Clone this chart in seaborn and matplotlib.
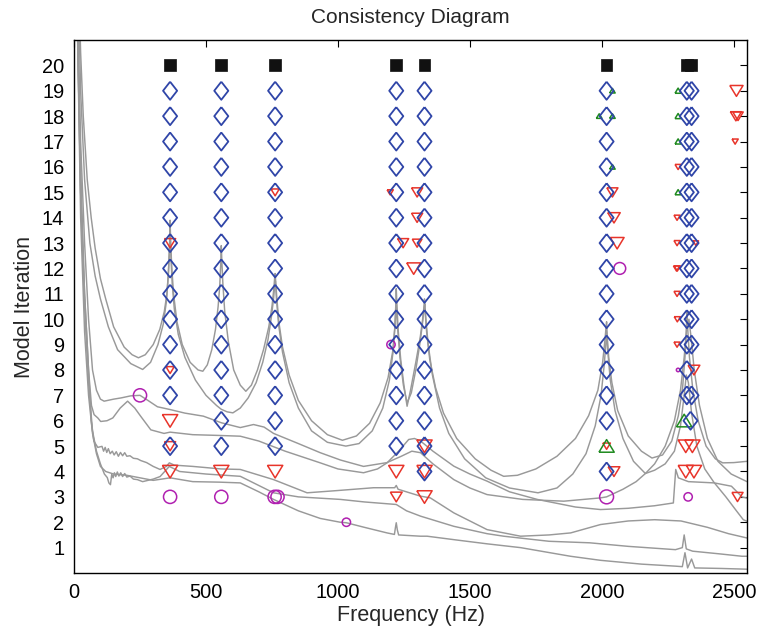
import numpy as np
import pandas as pd
import matplotlib
matplotlib.use("Agg")
import matplotlib.pyplot as plt
import seaborn as sns

# ---------------- background response curves: (frequency Hz, level in iteration units)
curve_1 = [(16, 24), (25, 20.5), (35, 18), (50, 15.5), (65, 14), (80, 12.8), (100, 11.6), (120, 10.8), (150, 9.7), (190, 8.9), (220, 8.6), (244, 8.48), (270, 8.6), (300, 9.0), (325, 9.6), (342, 10.3), (352, 11.0), (358, 11.9), (362, 12.9), (364, 13.9), (366, 13.1), (370, 12.1), (377, 11.0), (390, 9.9), (410, 9.0), (440, 8.3), (470, 8.0), (488, 7.95), (505, 8.2), (522, 8.8), (536, 9.6), (546, 10.5), (552, 11.3), (556, 12.2), (558, 12.9), (560, 12.3), (564, 11.4), (571, 10.3), (585, 9.1), (605, 8.0), (630, 7.4), (651, 7.16), (672, 7.4), (695, 8.0), (718, 8.8), (738, 9.7), (750, 10.5), (757, 11.2), (760, 11.6), (762, 11.8), (764, 11.5), (768, 10.9), (776, 9.9), (790, 8.9), (815, 7.8), (850, 6.8), (900, 6.0), (960, 5.45), (1017, 5.23), (1070, 5.4), (1120, 5.9), (1160, 6.7), (1190, 7.7), (1207, 8.7), (1215, 9.6), (1219, 10.5), (1221, 11.2), (1223, 10.7), (1228, 9.6), (1238, 8.4), (1250, 7.4), (1262, 6.57), (1275, 7.2), (1295, 8.3), (1312, 9.3), (1321, 10.0), (1326, 10.5), (1328, 10.8), (1330, 10.4), (1336, 9.5), (1348, 8.4), (1370, 7.3), (1400, 6.3), (1450, 5.3), (1520, 4.5), (1580, 4.05), (1628, 3.81), (1680, 3.85), (1750, 4.1), (1830, 4.6), (1900, 5.3), (1950, 6.2), (1985, 7.2), (2003, 8.3), (2012, 9.2), (2016, 9.7), (2018, 9.9), (2020, 9.4), (2026, 8.5), (2038, 7.5), (2060, 6.4), (2100, 5.4), (2150, 4.8), (2190, 4.53), (2230, 4.65), (2265, 5.2), (2290, 6.2), (2306, 7.3), (2315, 8.5), (2320, 9.5), (2322, 10.3), (2325, 9.7), (2332, 8.5), (2345, 7.2), (2365, 6.0), (2395, 5.0), (2430, 4.5), (2458, 4.34), (2500, 4.35), (2550, 4.4)]

curve_2 = [(14, 24), (25, 19), (40, 15.5), (60, 13), (80, 11.7), (100, 10.8), (130, 9.7), (165, 8.8), (215, 8.25), (260, 8.02), (290, 8.3), (318, 9.0), (338, 9.8), (350, 10.7), (357, 11.7), (361, 12.6), (364, 13.4), (367, 12.5), (372, 11.4), (380, 10.4), (395, 9.4), (420, 8.5), (460, 7.6), (500, 7.0), (540, 6.6), (558, 6.45), (580, 6.35), (602, 6.31), (630, 6.5), (660, 6.9), (690, 7.5), (715, 8.3), (735, 9.2), (748, 10.1), (756, 10.8), (760, 11.3), (763, 11.5), (767, 10.8), (775, 9.8), (790, 8.7), (815, 7.5), (850, 6.5), (900, 5.6), (960, 5.15), (1030, 5.0), (1080, 5.1), (1130, 5.6), (1170, 6.5), (1195, 7.6), (1210, 8.8), (1217, 9.9), (1221, 10.6), (1225, 9.8), (1235, 8.5), (1248, 7.4), (1262, 6.7), (1278, 7.1), (1295, 8.0), (1310, 9.0), (1320, 9.8), (1326, 10.4), (1329, 10.6), (1333, 10.0), (1342, 9.0), (1358, 7.8), (1385, 6.5), (1420, 5.5), (1480, 4.5), (1560, 3.75), (1650, 3.35), (1758, 3.16), (1830, 3.35), (1890, 3.9), (1940, 4.7), (1975, 5.8), (1997, 7.0), (2009, 8.2), (2015, 9.0), (2018, 9.5), (2022, 8.8), (2032, 7.6), (2050, 6.4), (2080, 5.3), (2120, 4.4), (2165, 3.92), (2200, 4.3), (2240, 5.0), (2275, 6.0), (2298, 7.2), (2312, 8.5), (2322, 9.7), (2330, 10.0), (2338, 9.3), (2350, 8.0), (2370, 6.6), (2400, 5.3), (2440, 4.4), (2490, 3.9), (2550, 3.6)]

curve_3 = [(14, 22), (25, 17), (40, 13), (55, 10), (70, 8), (85, 7.2), (100, 6.85), (114, 6.77), (150, 6.85), (179, 6.9), (215, 6.98), (250, 7.0), (280, 6.8), (316, 6.55), (364, 6.44), (420, 6.3), (490, 6.18), (558, 5.92), (630, 5.73), (680, 5.85), (720, 5.75), (756, 5.5), (850, 5.1), (933, 4.74), (1010, 4.45), (1097, 4.2), (1186, 4.35), (1240, 4.6), (1280, 4.8), (1313, 4.74), (1360, 4.3), (1439, 3.68), (1500, 3.35), (1565, 3.09), (1700, 2.9), (1856, 2.83), (1995, 2.96), (2018, 3.0), (2080, 3.3), (2130, 3.6), (2165, 3.92), (2200, 4.05), (2240, 4.3), (2275, 4.8), (2298, 5.8), (2312, 7.0), (2320, 7.8), (2328, 7.5), (2340, 6.3), (2360, 5.0), (2390, 4.1), (2425, 3.57), (2470, 3.0), (2510, 2.45), (2536, 2.1), (2550, 2.04)]

curve_4 = [(12, 22), (25, 16), (40, 11), (55, 8), (66, 6.6), (76, 6.24), (90, 6.11), (101, 5.97), (125, 6.0), (147, 6.11), (175, 6.5), (203, 6.77), (230, 6.5), (253, 6.17), (291, 5.64), (341, 5.5), (364, 5.55), (450, 5.45), (550, 5.42), (630, 5.39), (700, 5.2), (800, 4.8), (933, 4.34), (1000, 4.1), (1097, 3.95), (1150, 4.1), (1186, 4.34), (1230, 4.8), (1268, 5.26), (1290, 5.3), (1313, 5.2), (1360, 4.8), (1439, 4.21), (1500, 3.9), (1565, 3.62), (1650, 3.2), (1755, 2.9), (1900, 2.6), (1995, 2.5), (2100, 2.55), (2200, 2.65), (2271, 2.76), (2276, 3.5), (2280, 4.08), (2290, 3.75), (2328, 3.6), (2426, 3.55), (2491, 3.42), (2531, 3.0), (2550, 2.95)]

curve_5 = [(12, 22), (25, 15), (40, 11), (55, 8), (65, 6), (75, 5.2), (90, 4.95), (106, 4.99), (112, 4.8), (118, 4.95), (124, 4.75), (130, 4.9), (137, 4.7), (145, 4.8), (152, 4.65), (160, 4.78), (168, 4.6), (176, 4.75), (184, 4.62), (192, 4.74), (200, 4.6), (212, 4.62), (225, 4.52), (240, 4.5), (253, 4.43), (275, 4.35), (300, 4.2), (326, 4.08), (350, 4.2), (361, 4.34), (380, 4.25), (450, 4.2), (557, 4.1), (630, 4.08), (756, 3.68), (883, 3.16), (1000, 3.25), (1135, 3.36), (1215, 3.36), (1221, 3.45), (1228, 3.3), (1312, 3.03), (1350, 2.96), (1439, 2.37), (1565, 1.71), (1692, 1.45), (1800, 1.5), (1882, 1.58), (1995, 1.91), (2100, 2.05), (2200, 2.1), (2300, 2.05), (2400, 1.8), (2480, 1.55), (2550, 1.38)]

curve_6 = [(12, 22), (25, 15), (40, 10.5), (55, 7.5), (70, 5.6), (85, 4.8), (100, 4.3), (115, 3.9), (126, 3.76), (132, 3.55), (138, 3.48), (143, 3.9), (148, 3.75), (153, 3.95), (158, 3.8), (164, 3.98), (170, 3.82), (177, 3.95), (184, 3.8), (192, 3.92), (200, 3.78), (212, 3.82), (225, 3.7), (240, 3.68), (260, 3.6), (300, 3.7), (326, 3.8), (361, 4.2), (400, 4.0), (500, 3.9), (630, 3.81), (756, 3.16), (850, 3.0), (1009, 2.9), (1100, 2.8), (1221, 2.7), (1260, 2.45), (1313, 2.24), (1439, 1.84), (1565, 1.55), (1628, 1.45), (1800, 1.25), (1954, 1.19), (2100, 1.05), (2279, 0.92), (2305, 1.0), (2312, 1.5), (2320, 0.95), (2344, 0.86), (2450, 0.75), (2531, 0.66), (2550, 0.66)]

curve_7 = [(12, 22), (25, 14), (40, 9.5), (55, 7), (70, 5.5), (85, 4.7), (100, 4.2), (120, 4.0), (150, 3.9), (200, 3.85), (250, 3.75), (300, 3.65), (364, 3.75), (450, 3.6), (550, 3.58), (630, 3.55), (700, 3.2), (756, 2.9), (850, 2.45), (933, 2.15), (1009, 2.0), (1032, 1.98), (1100, 1.8), (1186, 1.58), (1214, 1.52), (1218, 1.8), (1221, 1.98), (1225, 1.7), (1230, 1.5), (1313, 1.45), (1338, 1.45), (1450, 1.3), (1565, 1.15), (1692, 1.0), (1881, 0.66), (1995, 0.5), (2150, 0.35), (2279, 0.27), (2305, 0.25), (2315, 0.8), (2325, 0.2), (2340, 0.55), (2352, 0.2), (2450, 0.18), (2550, 0.15)]

# ---------------- pole markers
sq_f = [364, 558, 762, 1221, 1328, 2018, 2322, 2337]
sq_it = [20, 20, 20, 20, 20, 20, 20, 20]

dia_col_f = [364, 558, 762, 1221, 1328, 2018, 2322, 2340, 2336]
dia_col_it = [
    [19, 18, 17, 16, 15, 14, 13, 12, 11, 10, 9, 8, 7, 5],
    [19, 18, 17, 16, 15, 14, 13, 12, 11, 10, 9, 8, 7, 6, 5],
    [19, 18, 17, 16, 15, 14, 13, 12, 11, 10, 9, 8, 7, 6, 5],
    [19, 18, 17, 16, 15, 14, 13, 12, 11, 10, 9, 8, 7, 6, 5],
    [19, 18, 17, 16, 15, 14, 13, 12, 11, 10, 9, 8, 7, 6, 5, 4],
    [19, 18, 17, 16, 15, 14, 13, 12, 11, 10, 9, 8, 7, 6, 4],
    [19, 18, 17, 16, 15, 14, 13, 12, 11, 10, 9, 8, 7],
    [19, 18, 17, 16, 15, 14, 13, 12, 11, 10, 9, 7],
    [6],
]
dia_f = [f for f, its in zip(dia_col_f, dia_col_it) for _ in its]
dia_it = [i for its in dia_col_it for i in its]

tri_f = [364, 364, 558, 762, 1221, 1328, 1221, 1328, 2514, 364, 1328, 2018, 2318, 2343,
         2046, 2318, 2349, 364, 2349, 364, 1247, 1300, 2058, 1287, 2283, 1300, 2046,
         1300, 2040, 762, 1198, 2510, 2508, 2516, 2505, 2289,
         2285, 2285, 2285, 2285, 2286, 2286, 2356]
tri_it = [6, 4, 4, 4, 4, 4, 3, 3, 3, 5, 5, 5, 5, 5,
          4, 4, 4, 8, 8, 13, 13, 13, 13, 12, 12, 14, 14,
          15, 15, 15, 15, 19, 18, 18, 17, 16,
          14, 13, 11, 9, 10, 12, 13]
tri_sz = [11, 11, 11, 11, 11, 11, 8.5, 11, 8, 8, 11, 5.5, 11, 11,
          8.5, 11, 11, 6, 8.5, 8, 8, 7, 10, 10, 4.5, 8, 9,
          8, 8, 6, 4.5, 9.5, 8, 7.5, 4.5, 4.5,
          4.5, 4.5, 4.5, 4.5, 4.5, 4.5, 4]

up_f = [2018, 2312, 2289, 2040, 2289, 1990, 2040, 2289, 2289, 2040]
up_it = [5, 6, 19, 19, 18, 18, 18, 17, 15, 16]
up_sz = [11, 11, 4.5, 4, 4.5, 4, 4, 4.5, 4.5, 4]

circ_f = [250, 364, 558, 760, 771, 2018, 2327, 1032, 2068, 1201, 2289]
circ_it = [7, 3, 3, 3, 3, 3, 3, 2, 12, 9, 8]
circ_sz = [9.5, 9.5, 9.5, 9.5, 9.5, 10, 6, 6, 8.5, 6, 2.5]

# ---------------- styling
GRAY = "#999999"
BLUE = "#2f45a8"
RED = "#e8342a"
GREEN = "#1f8a1f"
MAG = "#b020b0"

sns.set_theme(style="white")
plt.rcParams["font.family"] = ["Liberation Sans", "DejaVu Sans"]

fig = plt.figure(figsize=(7.72, 6.34), dpi=100)
ax = fig.add_axes([0.0959, 0.0962, 0.8717, 0.8407])

curves = [curve_1, curve_2, curve_3, curve_4, curve_5, curve_6, curve_7]
for c in curves:
    df = pd.DataFrame(c, columns=["f", "v"])
    sns.lineplot(data=df, x="f", y="v", ax=ax, color=GRAY, linewidth=1.05,
                 sort=False, estimator=None, zorder=1)

diamond = [(0, 1), (0.78, 0), (0, -1), (-0.78, 0), (0, 1)]
tri_down = [(-1, 0.8), (1, 0.8), (0, -0.85), (-1, 0.8)]
tri_up = [(-1, -0.8), (1, -0.8), (0, 0.85), (-1, -0.8)]


def scat(fx, it, marker, sizes, color, filled=False, z=3, lw=1.1):
    df = pd.DataFrame({"f": fx, "it": it})
    s = np.asarray(sizes, dtype=float) ** 2
    sns.scatterplot(data=df, x="f", y="it", ax=ax, marker=marker, s=s,
                    facecolor=(color if filled else "none"), edgecolor=color,
                    linewidth=lw, zorder=z, legend=False)


scat(tri_f, tri_it, tri_down, tri_sz, RED, z=3)
scat(up_f, up_it, tri_up, up_sz, GREEN, z=3)
scat(circ_f, circ_it, "o", circ_sz, MAG, z=3)
scat(dia_f, dia_it, diamond, [13] * len(dia_f), BLUE, z=4, lw=1.3)
scat(sq_f, sq_it, "s", [8.5] * len(sq_f), "#111111", filled=True, z=4, lw=0.5)

ax.set_xlim(0, 2550)
ax.set_ylim(0, 21)
ax.set_xticks([0, 500, 1000, 1500, 2000, 2500])
ax.set_yticks(list(range(1, 21)))
ax.tick_params(direction="in", length=5, width=0.8, top=True, right=True,
               labelsize=14.4, colors="black", pad=7)
for sp in ax.spines.values():
    sp.set_color("black")
    sp.set_linewidth(1.0)
ax.set_xlabel("Frequency (Hz)", fontsize=15.5, labelpad=2)
ax.set_ylabel("Model Iteration", fontsize=15.5, labelpad=5)
ax.set_title("Consistency Diagram", fontsize=15, pad=12.5)

fig.savefig("out.png", dpi=100)
